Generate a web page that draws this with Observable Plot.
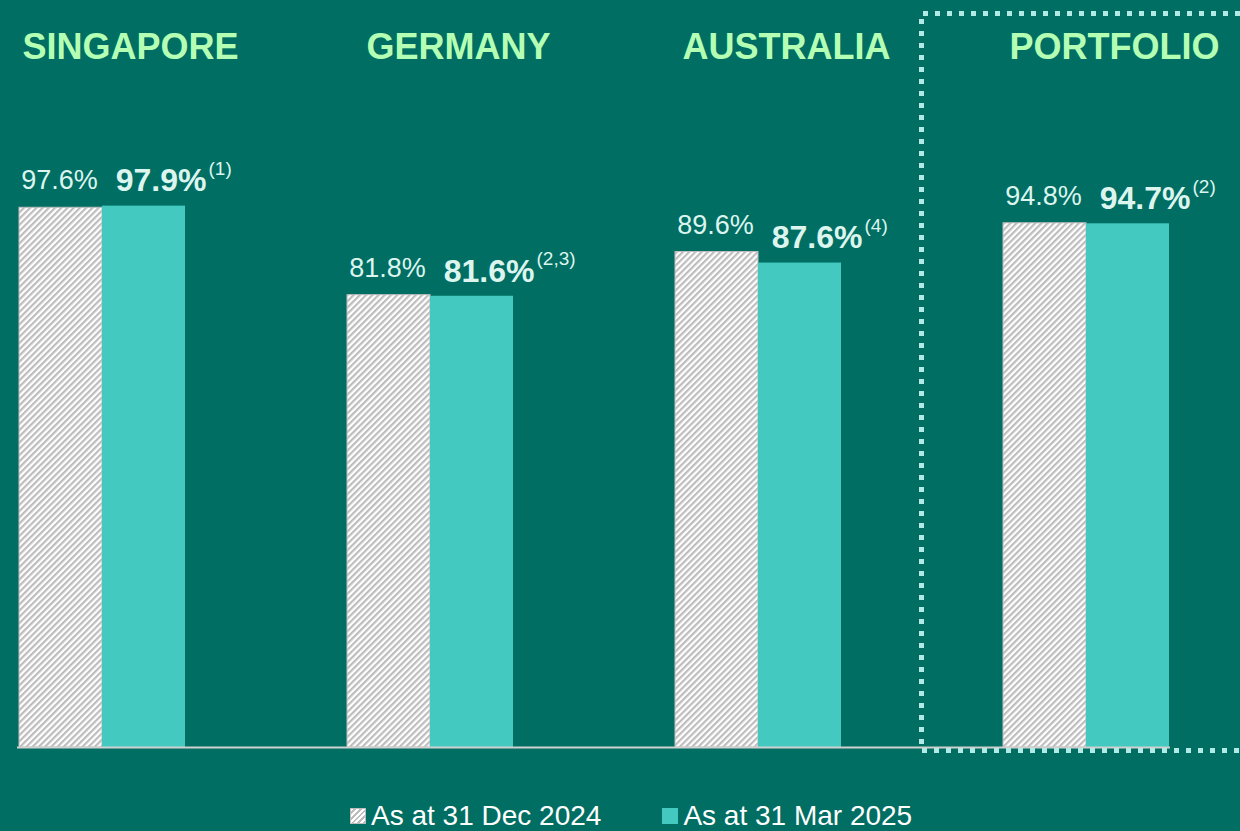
<!DOCTYPE html>
<html><head><meta charset="utf-8">
<script src="https://cdn.jsdelivr.net/npm/d3@7"></script>
<script src="https://cdn.jsdelivr.net/npm/@observablehq/plot@0.6"></script>
<style>
html,body{margin:0;padding:0;background:#006E62;}
#wrap{width:1240px;height:831px;position:relative;overflow:hidden;background:#006E62;font-family:"Liberation Sans",Arial,sans-serif;}
#chart{position:absolute;left:0;top:0;}
#legend{position:absolute;left:350px;top:800px;display:flex;align-items:center;color:#ffffff;font-size:28px;line-height:32px;white-space:nowrap;}
.sw{width:16px;height:16px;display:inline-block;margin-right:5px;box-sizing:border-box;}
.item{display:flex;align-items:center;}
</style></head><body>
<div id="wrap"><div id="chart"></div><div id="legend"></div></div>
<script>
const countries = ["SINGAPORE", "GERMANY", "AUSTRALIA", "PORTFOLIO"];
const dec2024 = [97.6, 81.8, 89.6, 94.8];
const mar2025 = [97.9, 81.6, 87.6, 94.7];
const notes = ["(1)", "(2,3)", "(4)", "(2)"];
const seriesLabels = ["As at 31 Dec 2024", "As at 31 Mar 2025"];

const rows = countries.map((c, i) => ({country: c, dec: dec2024[i], mar: mar2025[i], note: notes[i]}));

const TEAL = "#44C9C1", TITLE = "#B4FFB4", LABEL = "#DDF5EF";
const font = "'Liberation Sans', Arial, sans-serif";

const plot = Plot.plot({
  width: 1240, height: 780,
  marginLeft: 17, marginRight: 70, marginTop: 194, marginBottom: 33,
  style: {background: "transparent", fontFamily: font, overflow: "visible"},
  x: {domain: countries, paddingInner: 0.4954, paddingOuter: 0, axis: null},
  y: {domain: [0, 100], axis: null},
  marks: [
    Plot.barY(rows, {x: "country", y: "dec", insetRight: 83, fill: "url(#hatch)", stroke: "#BDBDBD", strokeWidth: 1}),
    Plot.barY(rows, {x: "country", y: "mar", insetLeft: 83, fill: TEAL}),
    Plot.ruleY([0], {stroke: "#D0D0D0", strokeWidth: 2}),
    Plot.text(rows, {x: "country", y: "dec", text: d => d.dec.toFixed(1) + "%", dx: -43, dy: -27, fill: LABEL, fontSize: 27}),
    Plot.text(rows, {x: "country", y: "mar", text: d => d.mar.toFixed(1) + "%", dx: 104, dy: -25, textAnchor: "end", fill: LABEL, fontSize: 32, fontWeight: "bold"}),
    Plot.text(rows, {x: "country", y: "mar", text: "note", dx: 106, dy: -37, textAnchor: "start", fill: LABEL, fontSize: 19}),
    Plot.text(countries, {x: d => d, frameAnchor: "top", lineAnchor: "middle", dx: 28, dy: -147, text: d => d, fill: TITLE, fontSize: 36, fontWeight: "bold"})
  ]
});

const svg = d3.select(plot);
const defs = svg.insert("defs", ":first-child");
const pat = defs.append("pattern").attr("id", "hatch").attr("patternUnits", "userSpaceOnUse")
  .attr("width", 4.4).attr("height", 4.4).attr("patternTransform", "rotate(45)");
pat.append("rect").attr("width", 4.4).attr("height", 4.4).attr("fill", "#FFFFFF");
pat.append("rect").attr("width", 2.2).attr("height", 4.4).attr("fill", "#BDBDBD");

// dotted highlight box around the portfolio column
svg.append("path").attr("d", "M1240,13.5H921.5V750.5H1240")
  .attr("fill", "none").attr("stroke", "#B2EBE6").attr("stroke-width", 5).attr("stroke-dasharray", "5 7");

document.getElementById("chart").appendChild(plot);

const legend = document.getElementById("legend");
const swatches = [
  "background:repeating-linear-gradient(135deg,#ffffff 0 2px,#bdbdbd 2px 4px);border:1px solid #bdbdbd;",
  "background:" + TEAL + ";"
];
seriesLabels.forEach((s, i) => {
  const it = document.createElement("div");
  it.className = "item";
  if (i > 0) it.style.marginLeft = "61px";
  it.innerHTML = `<span class="sw" style="${swatches[i]}"></span><span>${s}</span>`;
  legend.appendChild(it);
});
</script>
</body></html>
